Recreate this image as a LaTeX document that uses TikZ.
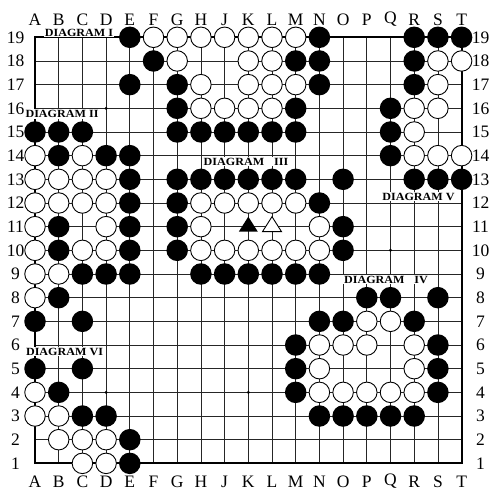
\documentclass[tikz,border=0pt]{standalone}
\usepackage{fontspec}
\setmainfont{Liberation Serif}
\begin{document}
\begin{tikzpicture}[x=1pt,y=-1pt,
  gridline/.style={line width=0.8pt,black!85},
  borderline/.style={line width=1.8pt,black},
  bst/.style={circle,fill=black,minimum size=21.5pt,inner sep=0pt},
  wst/.style={circle,fill=white,draw=black,line width=0.9pt,minimum size=20.5pt,inner sep=0pt},
  hoshi/.style={circle,fill=black,minimum size=3.2pt,inner sep=0pt},
  axis/.style={font=\fontsize{17.5}{17.5}\selectfont,inner sep=0pt},
  diag/.style={fill=white,inner sep=1.2pt,font=\bfseries\fontsize{11}{11}\selectfont}
]
\useasboundingbox (0,0) rectangle (500,500);
\fill[white] (0,0) rectangle (500,500);
\def\cols{A,B,C,D,E,F,G,H,J,K,L,M,N,O,P,Q,R,S,T}
\foreach \c [count=\i from 0] in \cols {
  \foreach \r in {1,...,19} {
    \coordinate (\c\r) at ({35+23.7*\i},{37.3+(19-\r)*23.67});
  }
}
% grid
\foreach \c in \cols { \draw[gridline] (\c1) -- (\c19); }
\foreach \r in {1,...,19} { \draw[gridline] (A\r) -- (T\r); }
\draw[borderline] (A1) rectangle (T19);
% axis labels
\foreach \c [count=\i from 0] in \cols {
  \node[axis] (top\c) at ({35+23.7*\i},19.5) {\c};
  \node[axis] (bot\c) at ({35+23.7*\i},481.5) {\c};
}
\foreach \r in {1,...,19} {
  \node[axis] (lft\r) at (15.5,{37.3+(19-\r)*23.67}) {\r};
  \node[axis] (rgt\r) at (480.5,{37.3+(19-\r)*23.67}) {\r};
}
% hoshi
\foreach \p in {D16,D4,K4,Q10} { \node[hoshi] (h\p) at (\p) {}; }
% labels
\node[diag] (dI) at (79,32.5) {\scalebox{1.1}[1]{DIAGRAM I}};
\node[diag] (dII) at (62,114) {\scalebox{1.1}[1]{DIAGRAM II}};
\node[diag] (dIII) at (246,161.5) {\scalebox{1.1}[1]{DIAGRAM\hspace{9pt}III}};
\node[diag] (dV) at (418.5,196.5) {\scalebox{1.1}[1]{DIAGRAM V}};
\node[diag] (dIV) at (386,279.5) {\scalebox{1.1}[1]{DIAGRAM\hspace{9pt}IV}};
\node[diag] (dVI) at (64.5,351.5) {\scalebox{1.1}[1]{DIAGRAM VI}};
% black stones
\foreach \p in {E19,N19,R19,S19,T19,
  F18,M18,N18,R18,
  E17,G17,N17,R17,
  G16,M16,Q16,
  A15,B15,C15,G15,H15,J15,K15,L15,M15,Q15,
  B14,D14,E14,Q14,
  E13,G13,H13,J13,K13,L13,M13,O13,R13,S13,T13,
  E12,G12,N12,
  B11,E11,G11,O11,
  B10,E10,G10,O10,
  C9,D9,E9,H9,J9,K9,L9,M9,N9,
  B8,P8,Q8,S8,
  A7,C7,N7,O7,R7,
  M6,S6,
  A5,C5,M5,S5,
  B4,M4,S4,
  C3,D3,N3,O3,P3,Q3,R3,
  E2,E1} { \node[bst] (s\p) at (\p) {}; }
% white stones
\foreach \p in {F19,G19,H19,J19,K19,L19,M19,
  G18,K18,L18,S18,T18,
  H17,K17,L17,M17,S17,
  H16,J16,K16,L16,R16,S16,
  R15,
  A14,C14,R14,S14,T14,
  A13,B13,C13,D13,
  A12,B12,C12,D12,H12,J12,K12,L12,M12,
  A11,D11,H11,N11,
  A10,C10,D10,H10,J10,K10,L10,M10,N10,
  A9,B9,A8,
  P7,Q7,
  N6,O6,P6,R6,
  N5,R5,
  A4,N4,O4,P4,Q4,R4,
  A3,B3,
  B2,C2,D2,
  C1,D1} { \node[wst] (s\p) at (\p) {}; }
% triangles
\fill[black] ([yshift=10pt]K11) -- ([xshift=-9.5pt,yshift=-5pt]K11) -- ([xshift=9.5pt,yshift=-5pt]K11) -- cycle;
\filldraw[fill=white,draw=black,line width=0.9pt] ([yshift=10pt]L11) -- ([xshift=-9.5pt,yshift=-5pt]L11) -- ([xshift=9.5pt,yshift=-5pt]L11) -- cycle;
\end{tikzpicture}
\end{document}
